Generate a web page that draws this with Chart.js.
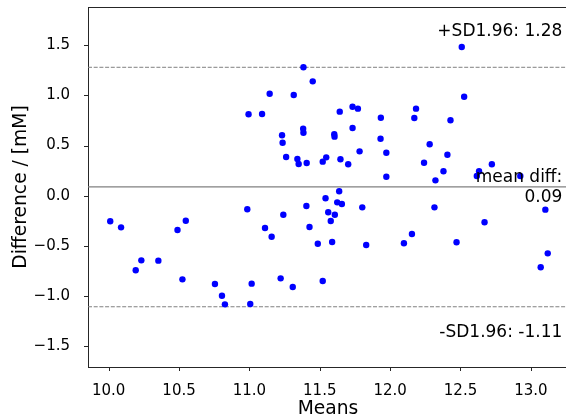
<!DOCTYPE html>
<html><head><meta charset="utf-8">
<script src="https://cdn.jsdelivr.net/npm/chart.js@4/dist/chart.umd.min.js"></script>
<style>html,body{margin:0;padding:0;background:#fff;overflow:hidden}#wrap{width:566px;height:418px;position:relative;overflow:hidden}</style>
</head><body><div id="wrap"><canvas id="c" width="572" height="418"></canvas></div>
<script>
// Bland-Altman data: means (x) and differences (y)
const means = [11.384,11.450,11.144,11.315,10.994,11.090,11.232,11.236,11.382,11.384,
  11.261,11.341,11.350,11.407,11.521,11.546,11.541,12.509,12.526,11.642,
  11.733,11.771,11.934,12.184,12.172,12.429,11.603,11.605,11.733,11.932,
  11.973,11.783,11.647,11.702,12.281,12.407,12.241,12.379,12.322,11.973,
  12.723,12.632,12.616,12.925,11.638,11.624,11.657,11.802,11.560,11.607,
  11.578,12.315,13.103,12.671,12.155,12.098,11.588,11.830,12.472,13.120,
  13.070,11.521,10.011,10.088,10.489,10.548,10.985,11.241,11.111,11.158,
  11.405,11.427,11.486,10.192,10.232,10.353,10.524,10.755,10.805,10.826,
  11.006,11.016,11.222,11.308];
const diffs = [1.279,1.139,1.016,1.003,0.811,0.814,0.602,0.528,0.667,0.627,
  0.385,0.366,0.316,0.326,0.339,0.382,-0.026,1.481,0.986,0.837,
  0.886,0.867,0.777,0.867,0.774,0.751,0.612,0.588,0.674,0.568,
  0.428,0.442,0.363,0.313,0.512,0.408,0.329,0.243,0.153,0.189,
  0.313,0.243,0.196,0.196,0.044,-0.066,-0.083,-0.116,-0.165,-0.189,
  -0.252,-0.116,-0.139,-0.265,-0.381,-0.474,-0.461,-0.491,-0.464,-0.574,
  -0.713,-0.850,-0.255,-0.315,-0.342,-0.249,-0.135,-0.189,-0.322,-0.408,
  -0.103,-0.312,-0.478,-0.743,-0.644,-0.647,-0.833,-0.880,-0.996,-1.082,
  -1.079,-0.876,-0.823,-0.909];

const meanDiff = 0.087;
const upperLoA = 1.279;
const lowerLoA = -1.106;
const upperLabel = "+SD1.96: 1.28";
const meanLabel1 = "mean diff:";
const meanLabel2 = "0.09";
const lowerLabel = "-SD1.96: -1.11";

const xTickValues = [10.0, 10.5, 11.0, 11.5, 12.0, 12.5, 13.0];
const xTickLabels = ["10.0","10.5","11.0","11.5","12.0","12.5","13.0"];
const yTickValues = [-1.5, -1.0, -0.5, 0.0, 0.5, 1.0, 1.5];
const yTickLabels = ["\u22121.5","\u22121.0","\u22120.5","0.0","0.5","1.0","1.5"];
const xRange = [9.853, 13.264];
const yRange = [-1.706, 1.8795];

const FONT = '"DejaVu Sans", Verdana, sans-serif';
const AXIS = '#262626';
const points = means.map((m, i) => ({x: m, y: diffs[i]}));
const hline = v => [{x: xRange[0], y: v}, {x: xRange[1], y: v}];

const noPad = s => { s.paddingTop = 0; s.paddingBottom = 0; s.paddingLeft = 0; s.paddingRight = 0; };

const framePlugin = {
  id: 'frame',
  afterDraw(chart) {
    const {ctx, chartArea, scales} = chart;
    const tl = 4;
    ctx.save();
    ctx.strokeStyle = AXIS;
    ctx.lineWidth = 1;
    ctx.beginPath();
    const top = Math.round(chartArea.top) + 0.5;
    ctx.moveTo(chartArea.left, top);
    ctx.lineTo(chartArea.right, top);
    const b = Math.round(chartArea.bottom);
    xTickValues.forEach(v => {
      const px = Math.round(scales.x.getPixelForValue(v)) + 0.5;
      ctx.moveTo(px, b);
      ctx.lineTo(px, b + tl);
    });
    const l = Math.round(chartArea.left);
    yTickValues.forEach(v => {
      const py = Math.round(scales.y.getPixelForValue(v)) + 0.5;
      ctx.moveTo(l, py);
      ctx.lineTo(l - tl, py);
    });
    ctx.stroke();
    ctx.restore();
  }
};

const labelPlugin = {
  id: 'loaLabels',
  afterDatasetsDraw(chart) {
    const {ctx, scales} = chart;
    const y = scales.y;
    const xr = 562.3;
    ctx.save();
    ctx.fillStyle = '#000';
    ctx.font = '17px ' + FONT;
    ctx.textAlign = 'right';
    ctx.textBaseline = 'alphabetic';
    ctx.fillText(upperLabel, xr, y.getPixelForValue(upperLoA) - 31.6);
    ctx.fillText(meanLabel1, xr, y.getPixelForValue(meanDiff) - 5.3);
    ctx.fillText(meanLabel2, xr, y.getPixelForValue(meanDiff) + 15.3);
    ctx.fillText(lowerLabel, xr, y.getPixelForValue(lowerLoA) + 30);
    ctx.restore();
  }
};

new Chart(document.getElementById('c'), {
  type: 'scatter',
  data: {
    datasets: [
      {type: 'line', data: hline(upperLoA), borderColor: '#808080', borderWidth: 1, borderDash: [4, 1.7], pointRadius: 0, order: 2},
      {type: 'line', data: hline(meanDiff), borderColor: '#808080', borderWidth: 1.3, pointRadius: 0, order: 2},
      {type: 'line', data: hline(lowerLoA), borderColor: '#808080', borderWidth: 1, borderDash: [4, 1.7], pointRadius: 0, order: 2},
      {data: points, backgroundColor: '#0000ff', borderWidth: 0, pointRadius: 3.2, order: 1}
    ]
  },
  options: {
    responsive: false,
    animation: false,
    devicePixelRatio: 1,
    layout: {padding: {top: 7, left: 0, right: 0, bottom: 0}},
    plugins: {legend: {display: false}, tooltip: {enabled: false}},
    scales: {
      x: {
        type: 'linear', position: 'bottom', min: xRange[0], max: xRange[1],
        afterBuildTicks: s => { s.ticks = xTickValues.map(v => ({value: v})); },
        afterFit: s => { s.height = 51; noPad(s); },
        ticks: {callback: (v, i) => xTickLabels[i], font: {family: FONT, size: 15}, color: '#000', padding: 7, maxRotation: 0, autoSkip: false},
        grid: {display: false},
        border: {display: true, color: AXIS, width: 1},
        title: {display: true, text: 'Means', color: '#000', font: {family: FONT, size: 18.7, lineHeight: 1}, padding: 0}
      },
      y: {
        type: 'linear', position: 'left', min: yRange[0], max: yRange[1],
        afterBuildTicks: s => { s.ticks = yTickValues.map(v => ({value: v})); },
        afterFit: s => { s.width = 88; noPad(s); },
        ticks: {callback: (v, i) => yTickLabels[i], font: {family: FONT, size: 15}, color: '#000', padding: 10, autoSkip: false},
        grid: {display: false},
        border: {display: true, color: AXIS, width: 1},
        title: {display: true, text: 'Difference / [mM]', color: '#000', font: {family: FONT, size: 18.7, lineHeight: 1}, padding: {top: 12, bottom: 0}}
      }
    }
  },
  plugins: [framePlugin, labelPlugin]
});
</script>
</body></html>
